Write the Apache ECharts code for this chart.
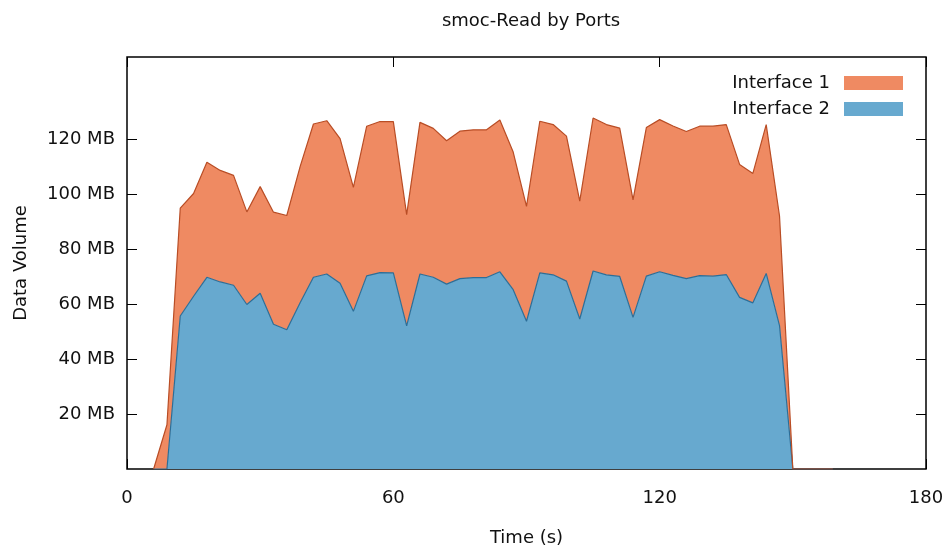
<!DOCTYPE html>
<html>
<head>
<meta charset="utf-8">
<title>smoc-Read by Ports</title>
<script src="https://cdn.jsdelivr.net/npm/echarts@6/dist/echarts.min.js"></script>
<style>
  html, body { margin: 0; padding: 0; background: #fff; }
  #chart { width: 950px; height: 554px; }
</style>
</head>
<body>
<div id="chart"></div>
<script>
// sample times (s), one point every 3 seconds
const times = [6, 9, 12, 15, 18, 21, 24, 27, 30, 33, 36, 39, 42, 45, 48, 51, 54, 57, 60,
  63, 66, 69, 72, 75, 78, 81, 84, 87, 90, 93, 96, 99, 102, 105, 108, 111, 114, 117, 120,
  123, 126, 129, 132, 135, 138, 141, 144, 147, 150, 153, 156, 159]

// MB per sample, interface 2 sits at the bottom of the stack
const iface2 = [0, 0, 55.7, 62.9, 69.8, 68.1, 66.9, 59.9, 64.0, 52.7, 50.7, 60.5, 69.8, 71.0, 67.6, 57.4, 70.3, 71.5, 71.4,
  52.1, 71.0, 69.8, 67.3, 69.3, 69.7, 69.7, 71.8, 65.3, 53.8, 71.4, 70.7, 68.4, 54.6, 72.1, 70.7, 70.1, 55.2, 70.2, 71.8,
  70.5, 69.3, 70.4, 70.2, 70.8, 62.5, 60.5, 71.2, 52.2, 0, 0, 0, 0]
const iface1 = [0, 16.1, 39.3, 37.4, 41.9, 40.6, 40.0, 33.7, 38.8, 40.8, 41.6, 49.6, 55.8, 55.8, 52.7, 45.1, 54.5, 55.0, 55.1,
  40.5, 55.2, 54.2, 52.2, 53.7, 53.8, 53.8, 55.3, 50.1, 41.8, 55.2, 54.7, 52.8, 42.9, 55.7, 54.7, 54.0, 42.8, 54.1, 55.4,
  54.4, 53.6, 54.4, 54.6, 54.6, 48.4, 47.1, 54.2, 39.9, 0, 0, 0, 0]

const xTicks = [0, 60, 120, 180]
const yTicks = [20, 40, 60, 80, 100, 120]

const font = 'DejaVu Sans'
const chart = echarts.init(document.getElementById('chart'))

// value first so the stack goes on the y dimension
const pairs = (vals) => times.map((t, i) => [vals[i], t])

const tick = (vals, inside) => ({ show: true, inside: inside, length: 10, lineStyle: { color: '#000', width: 1 }, customValues: vals })

// plain axis that only draws ticks on one side of the box
const tickAxis = (position, max, vals, onZero, inside) => ({
  type: 'value',
  position: position,
  min: 0,
  max: max,
  axisLine: { show: false, onZero: onZero },
  axisTick: tick(vals, inside),
  axisLabel: { show: false },
  splitLine: { show: false }
})

chart.setOption({
  animation: false,
  textStyle: { fontFamily: font, color: '#111' },
  title: {
    text: 'smoc-Read by Ports',
    left: 526,
    textAlign: 'center',
    top: 7,
    textStyle: { fontFamily: font, fontSize: 18, fontWeight: 'normal', color: '#111' }
  },
  legend: {
    orient: 'vertical',
    right: 42,
    top: 69,
    align: 'right',
    itemWidth: 59,
    itemHeight: 14,
    itemGap: 8,
    icon: 'rect',
    data: ['Interface 1', 'Interface 2'],
    textStyle: { fontFamily: font, fontSize: 18, color: '#111', padding: [0, 9, 0, 0] }
  },
  grid: { left: 127, right: 24, top: 57, bottom: 85, show: true, borderColor: '#000', borderWidth: 1.5 },
  xAxis: [
    {
      type: 'value',
      min: 0,
      max: 180,
      interval: 60,
      name: 'Time (s)',
      nameLocation: 'middle',
      nameGap: 60,
      nameTextStyle: { fontFamily: font, fontSize: 18, color: '#111' },
      axisLine: { show: false },
      axisTick: tick(xTicks, true),
      axisLabel: { margin: 20, fontFamily: font, fontSize: 18, color: '#111', customValues: xTicks },
      splitLine: { show: false }
    },
    tickAxis('top', 180, xTicks, false, true)
  ],
  yAxis: [
    {
      type: 'value',
      min: 0,
      max: 150,
      interval: 10,
      name: 'Data Volume',
      nameLocation: 'middle',
      nameGap: 97,
      nameTextStyle: { fontFamily: font, fontSize: 18, color: '#111' },
      axisLine: { show: false },
      axisTick: { show: false },
      axisLabel: { margin: 12, fontFamily: font, fontSize: 18, color: '#111', customValues: yTicks, formatter: '{value} MB' },
      splitLine: { show: false }
    },
    tickAxis('right', 150, yTicks, false, true),
    // sits on x = 0 (left edge), its outward side points into the plot
    tickAxis('right', 150, yTicks, true, false)
  ],
  series: [
    {
      name: 'Interface 2',
      type: 'line',
      stack: 'ports',
      symbol: 'none',
      encode: { x: 1, y: 0 },
      data: pairs(iface2),
      itemStyle: { color: '#67a9cf' },
      lineStyle: { color: '#2c6e98', width: 1.2 },
      areaStyle: { color: '#67a9cf', opacity: 1 }
    },
    {
      name: 'Interface 1',
      type: 'line',
      stack: 'ports',
      symbol: 'none',
      encode: { x: 1, y: 0 },
      data: pairs(iface1),
      itemStyle: { color: '#ef8a62' },
      lineStyle: { color: '#b94d25', width: 1.2 },
      areaStyle: { color: '#ef8a62', opacity: 1 }
    }
  ]
})
</script>
</body>
</html>
